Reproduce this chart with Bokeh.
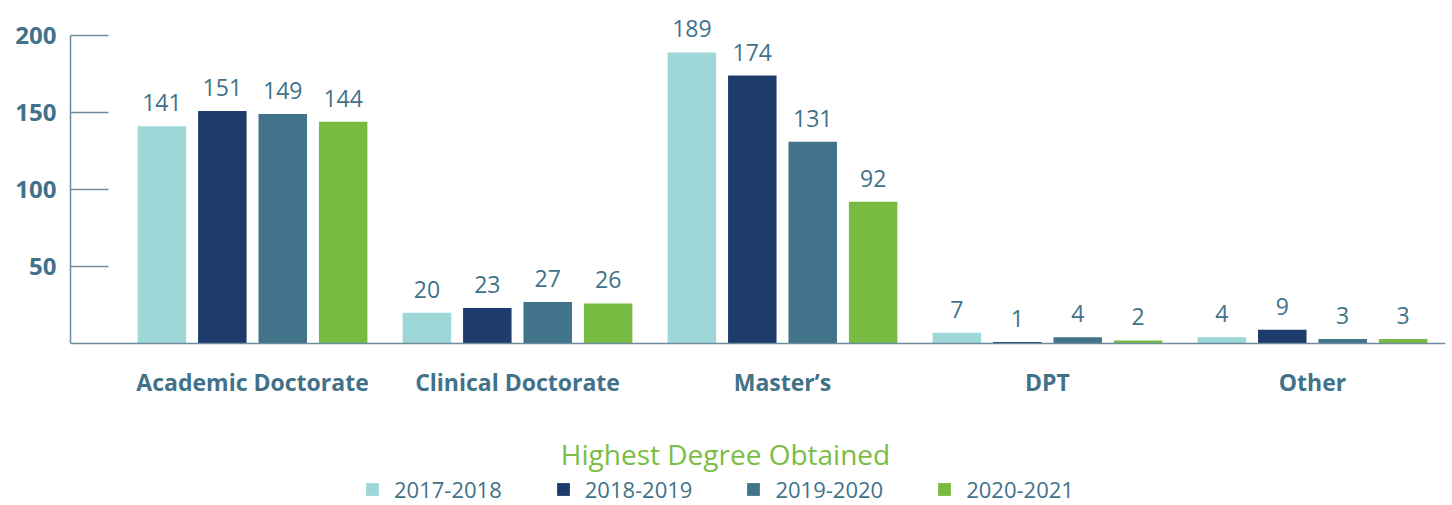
from bokeh.plotting import figure
from bokeh.models import (ColumnDataSource, Range1d, FixedTicker, Legend,
                          LegendItem, LabelSet, Label)
from bokeh.core.properties import value
from bokeh.embed import file_html
from bokeh.resources import INLINE
from bokeh.transform import dodge

categories = ["Academic Doctorate", "Clinical Doctorate", "Master\u2019s", "DPT", "Other"]
years = ["2017-2018", "2018-2019", "2019-2020", "2020-2021"]
v2017 = [141, 20, 189, 7, 4]
v2018 = [151, 23, 174, 1, 9]
v2019 = [149, 27, 131, 4, 3]
v2020 = [144, 26, 92, 2, 3]
y_ticks = [50, 100, 150, 200]

colors = ["#9dd7d8", "#1d3c6b", "#41748b", "#78bb42"]
text_col = "#41728a"
axis_col = "#6b8d9e"
FONT = "Open Sans"

xs = list(range(len(categories)))
src = ColumnDataSource(dict(x=xs, v0=v2017, v1=v2018, v2=v2019, v3=v2020))

p = figure(width=1450, height=504,
           output_backend="svg", toolbar_location=None,
           x_range=Range1d(-0.687, 4.502), y_range=Range1d(-104.5, 222.7),
           min_border_left=70, min_border_right=5, min_border_top=0,
           min_border_bottom=0)
p.outline_line_color = None
p.grid.visible = False

offsets = [-0.342, -0.114, 0.114, 0.342]
renderers = []
for i, (col, off) in enumerate(zip(colors, offsets)):
    r = p.vbar(x=dodge("x", off, range=p.x_range), top="v%d" % i, width=0.183,
               source=src, fill_color=col, line_color=None)
    renderers.append(r)
    ls = LabelSet(x=dodge("x", off, range=p.x_range), y="v%d" % i, text="v%d" % i,
                  source=src, text_align="center", text_baseline="bottom",
                  y_offset=15, text_font=value(FONT), text_font_size="23px",
                  text_color=text_col)
    p.add_layout(ls)

# y axis
ya = p.yaxis[0]
ya.ticker = FixedTicker(ticks=y_ticks)
ya.bounds = (0, 200)
ya.major_tick_in = 38
ya.major_tick_out = 0
ya.minor_tick_line_color = None
ya.axis_line_color = axis_col
ya.major_tick_line_color = axis_col
ya.axis_line_width = 1.5
ya.major_tick_line_width = 1.5
ya.major_label_text_font = FONT
ya.major_label_text_font_style = "bold"
ya.major_label_text_font_size = "24px"
ya.major_label_text_color = text_col
ya.major_label_standoff = 14

# x axis, pinned at y = 0
xa = p.xaxis[0]
xa.fixed_location = 0
xa.ticker = FixedTicker(ticks=xs)
xa.major_label_overrides = {i: c for i, c in enumerate(categories)}
xa.major_tick_line_color = None
xa.minor_tick_line_color = None
xa.axis_line_color = axis_col
xa.axis_line_width = 1.5
xa.major_label_text_font = FONT
xa.major_label_text_font_style = "bold"
xa.major_label_text_font_size = "23px"
xa.major_label_text_color = text_col
xa.major_label_standoff = 16

title = Label(x=1.785, y=-72, text="Highest Degree Obtained", text_align="center",
              text_baseline="middle", text_font=FONT, text_font_size="28px",
              text_color="#7abd45")
p.add_layout(title)

legend = Legend(items=[LegendItem(label=y, renderers=[r]) for y, r in zip(years, renderers)],
                orientation="horizontal", location=(294, 0),
                label_text_font=FONT, label_text_font_size="22px",
                label_text_color=text_col, glyph_width=16, glyph_height=16,
                label_standoff=14, spacing=53, padding=0, margin=0,
                border_line_color=None, background_fill_alpha=0)
p.add_layout(legend, "center")

open("out.html", "w").write(file_html(p, INLINE))
